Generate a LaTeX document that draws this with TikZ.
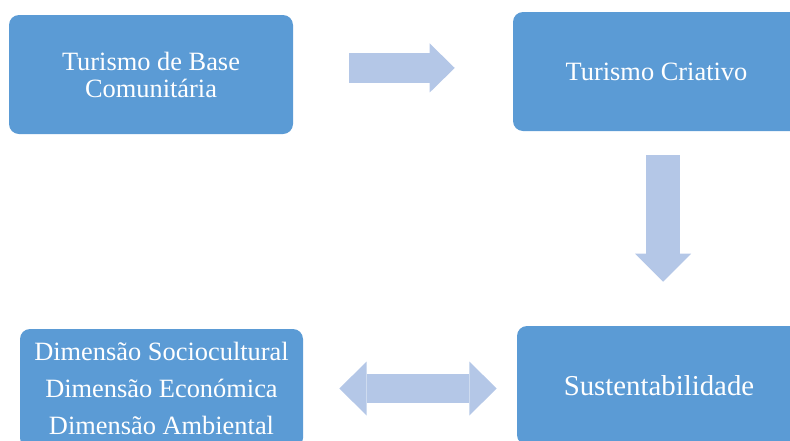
\documentclass[tikz,border=0pt]{standalone}
\usepackage{fontspec}
\setmainfont{Liberation Serif}
\usetikzlibrary{arrows.meta}
\definecolor{boxblue}{HTML}{5B9BD5}
\definecolor{arrowblue}{HTML}{B4C7E7}
\tikzset{
  bluebox/.style={fill=boxblue, draw=none, rounded corners=7.5pt, text=white, align=center, inner sep=0pt},
  fatarrow/.style={draw=arrowblue, line cap=butt}
}

\begin{document}
\begin{tikzpicture}[x=0.75pt,y=0.75pt,yscale=-1,xscale=1]
                  \path[use as bounding box, clip] (0,0) rectangle (790,440);

                  %Shape: Rounded Rect [id:tbc]
                  \node[bluebox, minimum width=213pt, minimum height=89.25pt, font=\fontsize{19.8}{20.25}\selectfont] (tbc) at (151,74.5) {Turismo de Base\\Comunitária};
                  %Shape: Rounded Rect [id:tc]
                  \node[bluebox, minimum width=215.25pt, minimum height=89.25pt, font=\fontsize{19.8}{20.25}\selectfont] (tc) at (656.5,71.5) {Turismo Criativo};
                  %Shape: Rounded Rect [id:sust]
                  \node[bluebox, minimum width=213pt, minimum height=89.25pt, font=\fontsize{21.6}{24}\selectfont] (sust) at (659,385.5) {Sustentabilidade};
                  %Shape: Rounded Rect [id:dim]
                  \node[bluebox, minimum width=212.25pt, minimum height=89.25pt, font=\fontsize{19.8}{27.75}\selectfont] (dim) at (161.5,388.5) {Dimensão Sociocultural\\Dimensão Económica\\Dimensão Ambiental};

                  %Shape: Right Arrow
                  \draw[fatarrow, line width=22.5pt, -{Triangle[length=18.75pt,width=36.75pt,line width=0pt]}, shorten <=42pt, shorten >=43.5pt] ([yshift=-4.9pt]tbc.east) -- ([yshift=-4.9pt]tbc.east -| tc.west);
                  %Shape: Down Arrow
                  \draw[fatarrow, line width=25.5pt, -{Triangle[length=21pt,width=42pt,line width=0pt]}, shorten <=18pt, shorten >=33pt] ([xshift=4.9pt]tc.south) -- ([xshift=4.9pt]tc.south |- sust.north);
                  %Shape: Left-Right Arrow
                  \draw[fatarrow, line width=21.75pt, {Triangle[length=20.6pt,width=40.5pt,line width=0pt]}-{Triangle[length=20.6pt,width=40.5pt,line width=0pt]}, shorten <=27pt, shorten >=15pt] (dim.east) -- (dim.east -| sust.west);
                \end{tikzpicture}
\end{document}
